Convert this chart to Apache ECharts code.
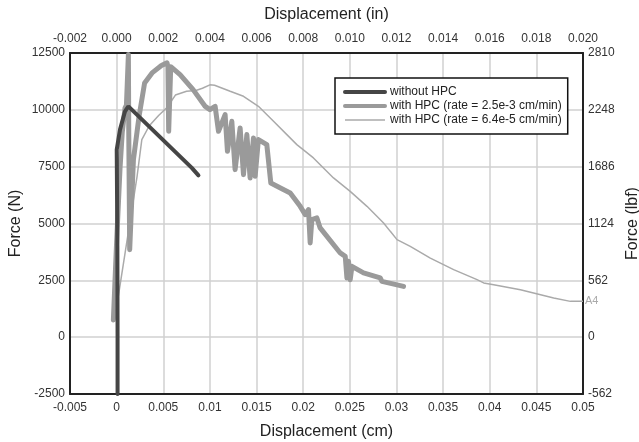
<!DOCTYPE html>
<html>
<head>
<meta charset="utf-8">
<script src="https://cdn.jsdelivr.net/npm/echarts@6/dist/echarts.min.js"></script>
<style>
html,body{margin:0;padding:0;background:#fff;}
#chart{width:639px;height:442px;}
</style>
</head>
<body>
<div id="chart"></div>
<script>
// Force (N) vs displacement (cm)
var seriesNames = ['without HPC', 'with HPC (rate = 2.5e-3 cm/min)', 'with HPC (rate = 6.4e-5 cm/min)'];

var withoutHPC = [
  [0.0001, -2500], [0.0001, 0], [0.00008, 4000], [0.00001, 8250],
  [0.00036, 9130], [0.0009, 9935], [0.00126, 10155], [0.00806, 7445], [0.00877, 7120]
];

var withHPCfast = [
  [-0.00035, 760], [0.0000, 4200], [0.00036, 7400], [0.0006, 9000], [0.0009, 10085],
  [0.00105, 10200], [0.00126, 12430], [0.0013, 9000], [0.0014, 3850], [0.0018, 7810],
  [0.0024, 9700], [0.0030, 11185], [0.0038, 11625], [0.0048, 11950],
  [0.0054, 12065], [0.0055, 11900], [0.00558, 9055], [0.0058, 11900], [0.0068, 11550],
  [0.0082, 10890], [0.0095, 10150], [0.0100, 10010], [0.01056, 10155], [0.01092, 9055],
  [0.01163, 9790], [0.01188, 8175], [0.01235, 9495], [0.01270, 7370], [0.01324, 9205],
  [0.01360, 7150], [0.01396, 8910], [0.01431, 7005], [0.01467, 8765], [0.01485, 7075],
  [0.01520, 8690], [0.01610, 8470], [0.01653, 6785], [0.01756, 6565], [0.01861, 6345],
  [0.01968, 5755], [0.02022, 5390], [0.02057, 5610], [0.02075, 4145], [0.02093, 5170],
  [0.02147, 5245], [0.02182, 4805], [0.02397, 3705], [0.02451, 3555], [0.02469, 2605],
  [0.02486, 3335], [0.02504, 2530], [0.02523, 3115], [0.02647, 2825], [0.02826, 2605],
  [0.02844, 2455], [0.02862, 2530], [0.03076, 2235]
];

var withHPCslow = [
  [-0.0002, 800], [0.0022, 7100], [0.0027, 8690], [0.0035, 9300], [0.0045, 9750],
  [0.0054, 10100], [0.0063, 10650], [0.0075, 10815], [0.0085, 10850], [0.0092, 10950],
  [0.0100, 11100], [0.0105, 11080], [0.01217, 10815], [0.0136, 10595], [0.0152, 10155],
  [0.01682, 9495], [0.01825, 8910], [0.01932, 8470], [0.0211, 7885], [0.02325, 7005],
  [0.02504, 6415], [0.02684, 5755], [0.02862, 5025], [0.02934, 4655], [0.03006, 4290],
  [0.03148, 3995], [0.03363, 3480], [0.03613, 2970], [0.03864, 2530], [0.03935, 2385],
  [0.04042, 2310], [0.04329, 2090], [0.04686, 1725], [0.04865, 1575], [0.0500, 1575]
];

var xRangeCm = [-0.005, 0.05, 0.005];
var yRangeN = [-2500, 12500, 2500];
var yRangeLbf = [-562, 2810, 562];
var cmPerInLabel = 2.5; // top axis labels are cm/2.5
var endTag = 'A4';

var colors = ['#454545', '#9a9a9a', '#aaaaaa'];
var widths = [4, 5, 1.5];

var font = '"Liberation Sans", Arial, Helvetica, sans-serif';
var axisLineStyle = {show: true, onZero: false, lineStyle: {color: '#222', width: 2}};
var labelStyle = {color: '#333', fontSize: 12, fontFamily: font};
var nameStyle = {color: '#222', fontSize: 16, fontFamily: font};
var plain = function (v) { return String(parseFloat(v.toFixed(4))); };

var chart = echarts.init(document.getElementById('chart'), null, {renderer: 'canvas'});
chart.setOption({
  animation: false,
  backgroundColor: '#fff',
  grid: {left: 70, right: 56, top: 53, bottom: 48, containLabel: false, outerBoundsMode: 'none'},
  legend: {
    data: seriesNames.map(function (n, i) {
      return {name: n, lineStyle: {width: widths[i] === 1.5 ? 1.5 : 4, color: colors[i]}};
    }),
    orient: 'vertical',
    left: 335, top: 78,
    backgroundColor: '#fff',
    borderColor: '#111', borderWidth: 1.5, borderRadius: 0,
    padding: [8, 6, 8, 8],
    itemGap: 2, itemWidth: 40, itemHeight: 10,
    itemStyle: {opacity: 0},
    textStyle: {color: '#222', fontSize: 12, fontFamily: font}
  },
  xAxis: [{
    type: 'value', position: 'bottom',
    min: xRangeCm[0], max: xRangeCm[1], interval: xRangeCm[2],
    name: 'Displacement (cm)', nameLocation: 'middle', nameGap: 30, nameTextStyle: nameStyle,
    nameMoveOverlap: false,
    axisLine: axisLineStyle, axisTick: {show: false},
    axisLabel: Object.assign({margin: 8, formatter: plain}, labelStyle),
    splitLine: {show: true, lineStyle: {color: '#d0d0d0', width: 1.5}}
  }, {
    type: 'value', position: 'top',
    min: xRangeCm[0], max: xRangeCm[1], interval: xRangeCm[2],
    name: 'Displacement (in)', nameLocation: 'middle', nameGap: 30, nameTextStyle: nameStyle,
    nameMoveOverlap: false,
    axisLine: axisLineStyle, axisTick: {show: false},
    axisLabel: Object.assign({margin: 8, formatter: function (v) { return (v / cmPerInLabel).toFixed(3); }}, labelStyle),
    splitLine: {show: false}
  }],
  yAxis: [{
    type: 'value', position: 'left',
    min: yRangeN[0], max: yRangeN[1], interval: yRangeN[2],
    name: 'Force (N)', nameLocation: 'middle', nameGap: 46, nameTextStyle: nameStyle,
    nameMoveOverlap: false,
    axisLine: axisLineStyle, axisTick: {show: false},
    axisLabel: Object.assign({margin: 5, formatter: plain}, labelStyle),
    splitLine: {show: true, lineStyle: {color: '#d0d0d0', width: 1.5}}
  }, {
    type: 'value', position: 'right',
    min: yRangeLbf[0], max: yRangeLbf[1], interval: yRangeLbf[2],
    name: 'Force (lbf)', nameLocation: 'middle', nameGap: 42, nameTextStyle: nameStyle,
    nameMoveOverlap: false,
    axisLine: axisLineStyle, axisTick: {show: false},
    axisLabel: Object.assign({margin: 5, formatter: plain}, labelStyle),
    splitLine: {show: false}
  }],
  series: [{
    name: seriesNames[2], type: 'line', data: withHPCslow, symbol: 'none', z: 2,
    lineStyle: {color: colors[2], width: widths[2]}, itemStyle: {color: colors[2]},
    endLabel: {show: true, formatter: endTag, color: '#aaa', fontSize: 11, fontFamily: font, distance: 2}
  }, {
    name: seriesNames[1], type: 'line', data: withHPCfast, symbol: 'none', z: 3,
    lineStyle: {color: colors[1], width: widths[1], join: 'round', cap: 'round'}, itemStyle: {color: colors[1]}
  }, {
    name: seriesNames[0], type: 'line', data: withoutHPC, symbol: 'none', z: 4,
    lineStyle: {color: colors[0], width: widths[0], cap: 'round'}, itemStyle: {color: colors[0]}
  }]
});
</script>
</body>
</html>
